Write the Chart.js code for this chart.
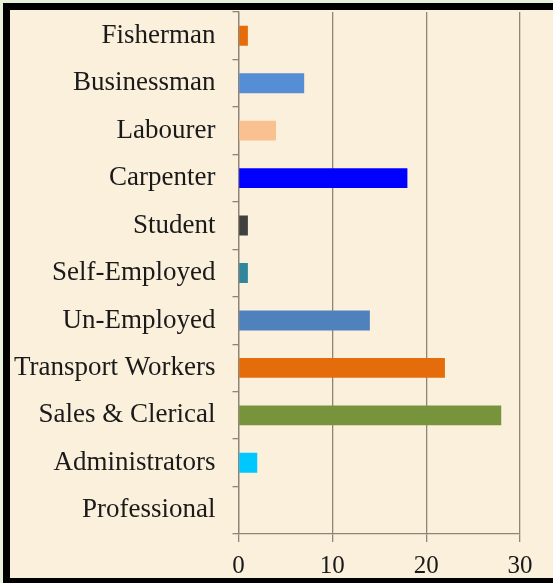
<!DOCTYPE html>
<html>
<head>
<meta charset="utf-8">
<script src="https://cdn.jsdelivr.net/npm/chart.js@4.4.1/dist/chart.umd.min.js"></script>
<style>
  html, body { margin: 0; padding: 0; }
  #outer { position: relative; width: 553px; height: 583px; background: #E8F1DC; overflow: hidden; }
  #frame { position: absolute; left: 3px; top: 3px; right: 0; bottom: 0;
           border-top: 7px solid #000; border-left: 7px solid #000; border-bottom: 5px solid #000;
           background: #FBF0DC; }
  #c { position: absolute; left: 0; top: 0; }
</style>
</head>
<body>
<div id="outer"><div id="frame"><canvas id="c" width="543" height="568"></canvas></div></div>
<script>
const categories = ["Fisherman", "Businessman", "Labourer", "Carpenter", "Student", "Self-Employed",
                    "Un-Employed", "Transport Workers", "Sales & Clerical", "Administrators", "Professional"];
const values = [1, 7, 4, 18, 1, 1, 14, 22, 28, 2, 0];
const barColors = ["#E46C0A", "#558ED5", "#FAC090", "#0000FF", "#404040", "#31859C",
                   "#4F81BD", "#E46C0A", "#77933C", "#00C8FF", "#A6A6A6"];
const xTicks = [0, 10, 20, 30];

const gridColor = "#8E8578";
const fontFamily = "'Liberation Serif', 'Times New Roman', serif";

new Chart(document.getElementById('c'), {
  type: 'bar',
  data: {
    labels: categories,
    datasets: [{
      data: values,
      backgroundColor: barColors,
      borderWidth: 0,
      categoryPercentage: 1.0,
      barPercentage: 0.42
    }]
  },
  options: {
    indexAxis: 'y',
    responsive: false,
    animation: false,
    devicePixelRatio: 1,
    layout: { padding: { top: 2, right: 33, bottom: 0, left: 0 } },
    plugins: { legend: { display: false }, tooltip: { enabled: false } },
    scales: {
      x: {
        min: xTicks[0],
        max: xTicks[xTicks.length - 1],
        afterBuildTicks: (scale) => { scale.ticks = xTicks.map(v => ({ value: v })); },
        afterFit: (scale) => { scale.height = 44; scale.paddingLeft = 0; scale.paddingRight = 0; },
        grid: { color: gridColor, lineWidth: 1.3, tickLength: 8, drawTicks: true },
        border: { display: true, color: gridColor, width: 1.3 },
        ticks: { color: '#1a1a1a', font: { family: fontFamily, size: 25 }, padding: 9, maxRotation: 0 }
      },
      y: {
        afterFit: (scale) => { scale.width = 228.5; scale.paddingTop = 0; scale.paddingBottom = 0; },
        grid: { drawOnChartArea: false, color: gridColor, lineWidth: 1.3, tickLength: 6, offset: true },
        border: { display: true, color: gridColor, width: 1.3 },
        ticks: { color: '#1a1a1a', font: { family: fontFamily, size: 27 }, padding: 17, autoSkip: false }
      }
    }
  }
});
</script>
</body>
</html>
